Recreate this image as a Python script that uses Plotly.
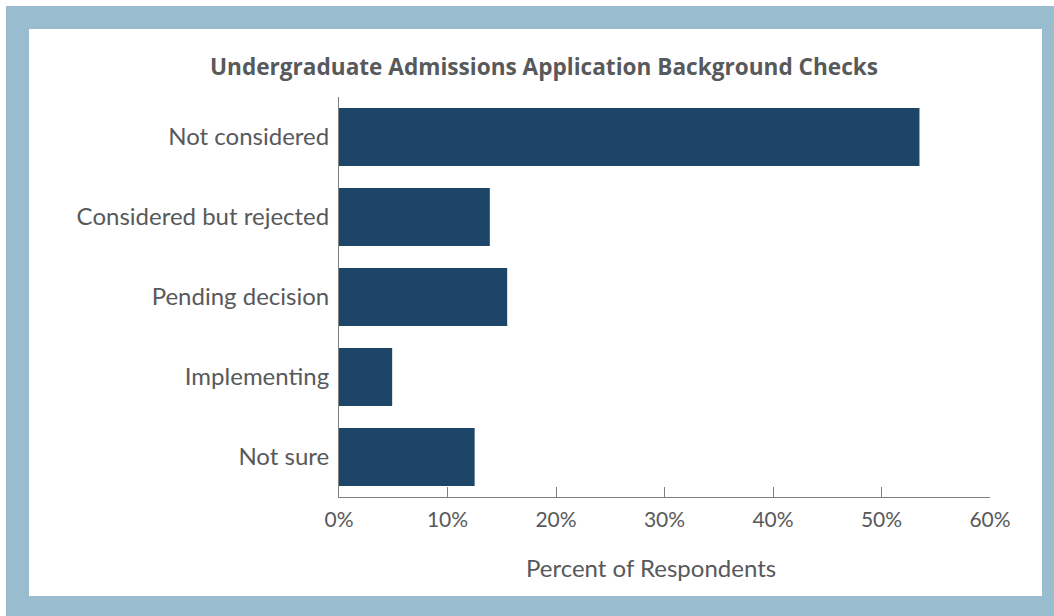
import plotly.graph_objects as go

categories = ["Not considered", "Considered but rejected", "Pending decision", "Implementing", "Not sure"]
values = [53.5, 13.9, 15.5, 4.9, 12.5]
tick_vals = [0, 10, 20, 30, 40, 50, 60]
tick_text = ["0%", "10%", "20%", "30%", "40%", "50%", "60%"]

W, H = 1054, 616
L, R, T, B = 339, 64, 97, 119
pw, ph = W - L - R, H - T - B

def px(x):
    return (x - L) / pw

def py(y):
    return (H - B - y) / ph

FONT = "Lato"
TXT = "#58595b"

fig = go.Figure(go.Bar(
    x=values, y=categories, orientation="h",
    marker=dict(color="#1d4567", line=dict(width=0)),
    hoverinfo="x+y",
))

fig.update_layout(
    width=W, height=H,
    margin=dict(l=L, r=R, t=T, b=B, pad=0),
    paper_bgcolor="white", plot_bgcolor="rgba(0,0,0,0)",
    bargap=0.275,
    showlegend=False,
    font=dict(family=FONT, color=TXT, size=20),
    xaxis=dict(
        range=[0, 60], tickvals=tick_vals, ticktext=tick_text,
        showgrid=False, zeroline=False, showline=True, linecolor="#7f7f7f", linewidth=1,
        ticks="inside", ticklen=10, tickcolor="#7f7f7f", tickwidth=1,
        ticklabelstandoff=4,
        tickfont=dict(family=FONT, size=21, color=TXT),
        fixedrange=True,
    ),
    yaxis=dict(
        categoryorder="array", categoryarray=categories[::-1],
        showgrid=False, zeroline=False, showline=True, linecolor="#7f7f7f", linewidth=1,
        ticks="", ticklabelstandoff=4,
        tickfont=dict(family=FONT, size=24, color=TXT),
        fixedrange=True,
    ),
    shapes=[
        dict(type="rect", xref="paper", yref="paper", layer="below",
             x0=px(6), x1=px(1060), y0=py(622), y1=py(6),
             fillcolor="#99bccf", line=dict(width=0)),
        dict(type="rect", xref="paper", yref="paper", layer="below",
             x0=px(29), x1=px(1042), y0=py(596), y1=py(29),
             fillcolor="white", line=dict(width=0)),
    ],
    annotations=[
        dict(text="<b>Undergraduate Admissions Application Background Checks</b>",
             xref="paper", yref="paper", x=px(544), y=py(66), showarrow=False,
             xanchor="center", yanchor="middle",
             font=dict(family="Open Sans", size=22.6, color=TXT)),
        dict(text="Percent of Respondents",
             xref="paper", yref="paper", x=px(651), y=py(567), showarrow=False,
             xanchor="center", yanchor="middle",
             font=dict(family=FONT, size=24, color=TXT)),
    ],
)

fig.write_html("out.html", config={"displayModeBar": False},
               post_script="document.body.style.margin='0';document.body.style.padding='0';")
